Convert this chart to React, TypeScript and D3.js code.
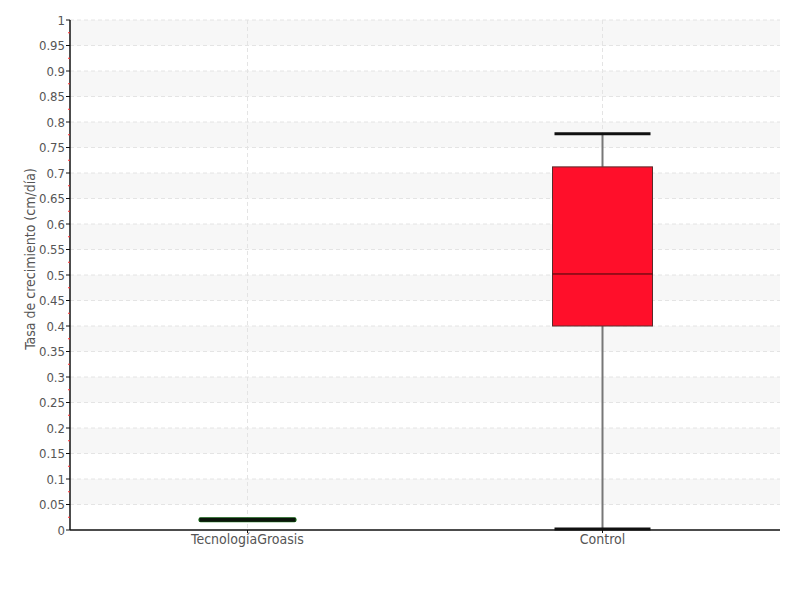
import React from "react";
import * as d3 from "d3";

const categories = ["TecnologíaGroasis", "Control"];
const lowWhisker = [0.02, 0.002];
const q1Values = [0.02, 0.4];
const medianValues = [0.02, 0.502];
const q3Values = [0.02, 0.712];
const highWhisker = [0.02, 0.777];
const boxColors = ["#1a7a1a", "#ff0f2a"];
const yTicks = d3.range(0, 1.0001, 0.05).map((v) => +v.toFixed(2));
const yMinorTicks = d3.range(0.025, 1, 0.05).map((v) => +v.toFixed(3));
const yLabel = "Tasa de crecimiento (cm/día)";

const W = 800;
const H = 600;
const M = { left: 70, right: 20, top: 20, bottom: 70 };
const FONT = "'Liberation Sans Narrow', 'DejaVu Sans Condensed', sans-serif";

export default function App() {
  const x = d3
    .scaleBand<string>()
    .domain(categories)
    .range([M.left, W - M.right])
    .padding(0);
  const y = d3.scaleLinear().domain([0, 1]).range([H - M.bottom, M.top]);
  const plotL = M.left;
  const plotR = W - M.right;
  const boxW = 100;
  const capW = 96;

  const bands = yTicks.filter((t, i) => i < yTicks.length - 1 && Math.round(t * 100) % 10 === 0);

  return (
    <svg
      width={W}
      height={H}
      style={{ position: "absolute", left: 0, top: 0, fontFamily: FONT }}
    >
      <rect x={0} y={0} width={W} height={H} fill="#fff" />
      {bands.map((t) => (
        <rect
          key={"b" + t}
          x={plotL}
          y={y(t + 0.1)}
          width={plotR - plotL}
          height={y(t + 0.05) - y(t + 0.1)}
          fill="#f7f7f7"
        />
      ))}
      {yTicks.slice(1).map((t) => (
        <line
          key={"g" + t}
          x1={plotL}
          x2={plotR}
          y1={y(t)}
          y2={y(t)}
          stroke="#e4e4e4"
          strokeDasharray="4,3"
        />
      ))}
      {categories.map((c) => {
        const cx = (x(c) as number) + x.bandwidth() / 2;
        return (
          <line
            key={"v" + c}
            x1={cx}
            x2={cx}
            y1={y(1)}
            y2={y(0)}
            stroke="#e4e4e4"
            strokeDasharray="4,3"
          />
        );
      })}
      {categories.map((c, i) => {
        const cx = (x(c) as number) + x.bandwidth() / 2;
        const flat = q3Values[i] === q1Values[i];
        return (
          <g key={"box" + c}>
            {!flat && (
              <>
                <line x1={cx} x2={cx} y1={y(highWhisker[i])} y2={y(q3Values[i])} stroke="#777" strokeWidth={2} />
                <line x1={cx} x2={cx} y1={y(q1Values[i])} y2={y(lowWhisker[i])} stroke="#777" strokeWidth={2} />
                <rect
                  x={cx - boxW / 2}
                  y={y(q3Values[i])}
                  width={boxW}
                  height={y(q1Values[i]) - y(q3Values[i])}
                  fill={boxColors[i]}
                  stroke="#5a2a2a"
                  strokeWidth={1}
                />
                <line
                  x1={cx - boxW / 2}
                  x2={cx + boxW / 2}
                  y1={y(medianValues[i])}
                  y2={y(medianValues[i])}
                  stroke="#3a0a0a"
                  strokeWidth={1}
                />
                <line x1={cx - capW / 2} x2={cx + capW / 2} y1={y(highWhisker[i])} y2={y(highWhisker[i])} stroke="#111" strokeWidth={3} />
                <line x1={cx - capW / 2} x2={cx + capW / 2} y1={y(lowWhisker[i])} y2={y(lowWhisker[i])} stroke="#111" strokeWidth={3} />
              </>
            )}
            {flat && (
              <>
                <rect
                  x={cx - boxW / 2 + 1}
                  y={y(q3Values[i]) - 2.5}
                  width={boxW - 2}
                  height={5}
                  rx={2}
                  fill={boxColors[i]}
                />
                <line
                  x1={cx - capW / 2}
                  x2={cx + capW / 2}
                  y1={y(medianValues[i])}
                  y2={y(medianValues[i])}
                  stroke="#0a140a"
                  strokeWidth={4}
                />
              </>
            )}
          </g>
        );
      })}
      <line x1={plotL} x2={plotL} y1={y(1)} y2={y(0)} stroke="#111" strokeWidth={1.5} />
      <line x1={plotL} x2={plotR} y1={y(0)} y2={y(0)} stroke="#111" strokeWidth={1.5} />
      {yMinorTicks.map((t) => (
        <line key={"m" + t} x1={plotL - 2} x2={plotL} y1={y(t)} y2={y(t)} stroke="#ff3030" strokeWidth={1} />
      ))}
      {yTicks.map((t) => (
        <g key={"t" + t}>
          <line x1={plotL - 4} x2={plotL} y1={y(t)} y2={y(t)} stroke="#111" strokeWidth={1} />
          <text
            x={plotL - 5}
            y={y(t)}
            dy="0.35em"
            textAnchor="end"
            fontSize={13}
            fill="#555"
          >
            {d3.format("~g")(t)}
          </text>
        </g>
      ))}
      {categories.map((c) => {
        const cx = (x(c) as number) + x.bandwidth() / 2;
        return (
          <g key={"xl" + c}>
            <line x1={cx} x2={cx} y1={y(0)} y2={y(0) + 3} stroke="#111" />
            <text x={cx} y={y(0) + 14} textAnchor="middle" fontSize={14} fill="#555">
              {c}
            </text>
          </g>
        );
      })}
      <text
        transform={`translate(35, 259) rotate(-90)`}
        textAnchor="middle"
        fontSize={14}
        fill="#555"
      >
        {yLabel}
      </text>
    </svg>
  );
}
